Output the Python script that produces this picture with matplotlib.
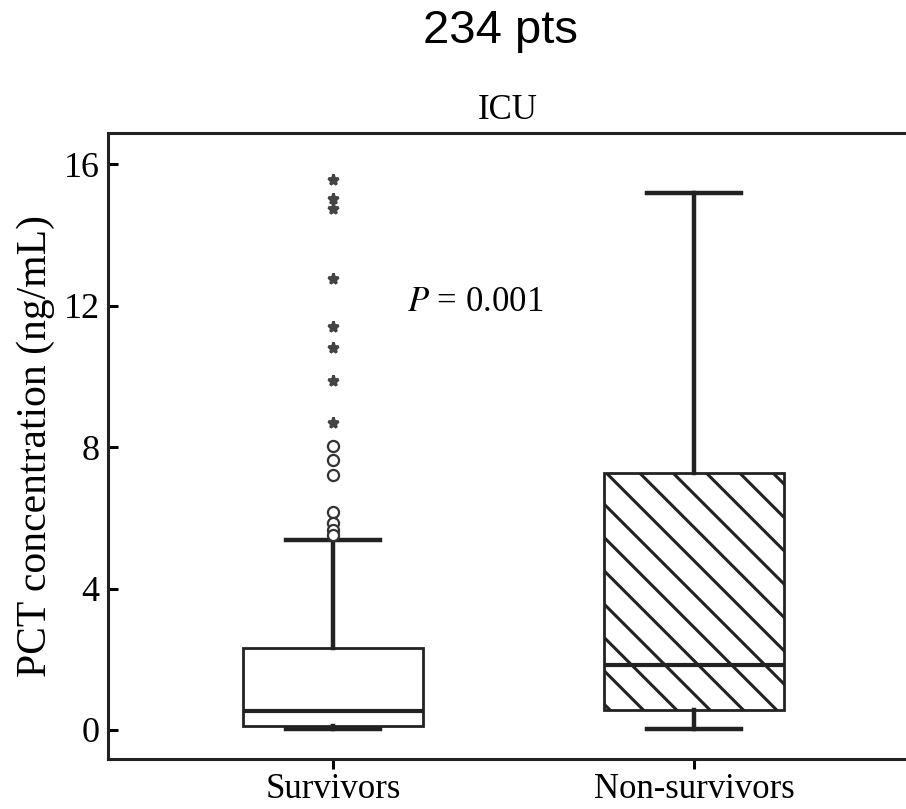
import matplotlib
matplotlib.use("Agg")
import matplotlib.pyplot as plt

# PCT concentration (ng/mL) per outcome group, ICU cohort
groups = ["Survivors", "Non-survivors"]
q1 = [0.11, 0.57]
median = [0.54, 1.84]
q3 = [2.32, 7.26]
whisker_low = [0.04, 0.03]
whisker_high = [5.37, 15.18]

# survivors' outliers: mild (circles) and extreme (stars)
mild_outliers = [8.03, 7.63, 7.21, 6.16, 5.85, 5.65, 5.51]
extreme_outliers = [15.55, 15.01, 14.73, 12.75, 11.39, 10.80, 9.87, 8.68]

y_ticks = [0, 4, 8, 12, 16]
p_label = "$P$ = 0.001"

plt.rcParams["font.family"] = ["Liberation Serif", "DejaVu Serif"]
plt.rcParams["mathtext.fontset"] = "stix"
plt.rcParams["hatch.linewidth"] = 1.1

DPI = 200
fig = plt.figure(figsize=(906 / DPI, 809 / DPI), dpi=DPI)
ax = fig.add_axes([108 / 906, 1 - 759 / 809, 800 / 906, 626 / 809])

stats = []
for i, name in enumerate(groups):
    stats.append(dict(label=name, q1=q1[i], med=median[i], q3=q3[i],
                      whislo=whisker_low[i], whishi=whisker_high[i], fliers=[]))

bp = ax.bxp(stats, positions=[1, 2], widths=0.5, capwidths=0.26,
            patch_artist=True, showfliers=False,
            boxprops=dict(linewidth=1.0, edgecolor="#222222", facecolor="white"),
            medianprops=dict(linewidth=1.5, color="#222222"),
            whiskerprops=dict(linewidth=1.6, color="#222222"),
            capprops=dict(linewidth=1.6, color="#222222"))
bp["boxes"][1].set_hatch("\\\\")

ax.plot([1] * len(mild_outliers), mild_outliers, linestyle="none",
        marker="o", markersize=4.0, markerfacecolor="white",
        markeredgecolor="#333333", markeredgewidth=0.8, zorder=3)
ax.plot([1] * len(extreme_outliers), extreme_outliers, linestyle="none",
        marker="*", markersize=4.0, color="#444444", zorder=3)

ax.text(1.394, 12.1, p_label, fontsize=12.5, ha="center", va="center")

ax.set_xlim(0.377, 2.593)
ax.set_ylim(-0.82, 16.88)
ax.set_yticks(y_ticks)
ax.set_xticks([1, 2])
ax.set_xticklabels(groups)
ax.tick_params(axis="y", direction="in", length=3.6, width=1.1, labelsize=13, pad=3)
ax.tick_params(axis="x", direction="out", length=3.6, width=1.1, labelsize=12.5, pad=1.5)
for side in ax.spines.values():
    side.set_linewidth(1.1)
    side.set_color("#222222")

ax.set_ylabel("PCT concentration (ng/mL)", fontsize=15, labelpad=3)
ax.set_title("ICU", fontsize=12.5, pad=5)

fig.text(500 / 906, 1 - 31 / 809, "234 pts", fontsize=17, ha="center",
         va="center", family="Liberation Sans")

fig.savefig("out.png", dpi=DPI)
